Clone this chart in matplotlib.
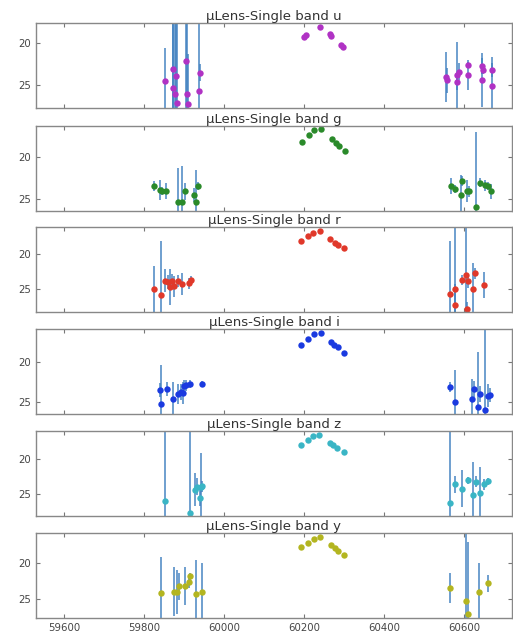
import numpy as np
import matplotlib
matplotlib.use("Agg")
import matplotlib.pyplot as plt
from matplotlib.ticker import MultipleLocator

# Полосы и цвета точек
bands = ["u", "g", "r", "i", "z", "y"]
band_colors = ["#b032c4", "#2a8a2a", "#e0382a", "#1a3ae0", "#3ab5c5", "#b3b520"]

# Данные по полосам: MJD, звёздная величина, ошибка
u_mjd = [59852, 59873, 59873, 59877, 59879, 59882, 59904, 59908, 59910, 59937, 59940,
         60201, 60205, 60240, 60264, 60268, 60293, 60298,
         60554, 60558, 60582, 60583, 60587, 60611, 60611, 60644, 60648, 60646, 60671, 60671]
u_mag = [24.52, 23.1, 25.3, 26.0, 23.9, 27.06, 22.14, 26.0, 27.26, 25.7, 23.5,
         19.25, 19.05, 18.06, 18.96, 19.13, 20.24, 20.5,
         24.0, 24.4, 23.8, 24.6, 23.4, 22.6, 23.8, 22.7, 23.2, 24.4, 23.2, 25.1]
u_err = [4.0, 12, 10, 9, 8, 10, 8, 9, 6, 10, 1.0,
         0.05, 0.05, 0.05, 0.05, 0.05, 0.05, 0.05,
         3.0, 1.5, 4.0, 1.0, 1.0, 0.4, 1.75, 1.0, 0.5, 3.2, 0.8, 3.5]

g_mjd = [59824, 59839, 59846, 59854, 59884, 59895, 59903, 59924, 59930, 59934,
         60195, 60213, 60226, 60243, 60270, 60280, 60288, 60303,
         60567, 60577, 60592, 60596, 60607, 60612, 60631, 60639, 60652, 60661, 60667]
g_mag = [23.45, 23.9, 24.05, 24.05, 25.3, 25.35, 24.1, 24.5, 25.4, 23.45,
         18.3, 17.5, 16.9, 16.8, 17.9, 18.4, 18.8, 19.4,
         23.45, 23.8, 24.5, 22.9, 24.1, 24.1, 25.95, 23.05, 23.4, 23.45, 24.1]
g_err = [0.6, 1.2, 0.5, 0.9, 3.9, 4.2, 1.0, 0.8, 3.8, 0.5,
         0.05, 0.05, 0.05, 0.05, 0.05, 0.05, 0.05, 0.05,
         0.9, 0.5, 2.3, 0.6, 1.3, 0.6, 8.8, 0.5, 0.6, 0.5, 0.9]

r_mjd = [59824, 59842, 59853, 59859, 59866, 59871, 59874, 59885, 59895, 59913, 59917,
         60192, 60209, 60222, 60240, 60265, 60278, 60286, 60301,
         60566, 60577, 60577, 60595, 60604, 60607, 60611, 60622, 60628, 60651]
r_mag = [25.05, 25.9, 23.8, 24.0, 24.7, 23.9, 24.6, 23.85, 24.3, 24.2, 23.7,
         18.14, 17.43, 16.96, 16.7, 17.8, 18.33, 18.7, 19.1,
         25.67, 24.95, 27.3, 23.76, 23.05, 27.8, 23.9, 25.0, 22.76, 24.4]
r_err = [3.3, 7.8, 1.7, 1.0, 2.6, 1.0, 1.5, 0.8, 1.6, 0.8, 0.6,
         0.05, 0.05, 0.05, 0.05, 0.05, 0.05, 0.05, 0.05,
         7.5, 9.0, 3.0, 0.7, 8.0, 1.0, 1.0, 3.7, 0.8, 1.85]

i_mjd = [59839, 59842, 59857, 59873, 59884, 59892, 59897, 59901, 59906, 59916, 59945,
         60192, 60209, 60226, 60243, 60268, 60276, 60284, 60301,
         60566, 60577, 60619, 60626, 60634, 60639, 60652, 60661, 60664]
i_mag = [23.5, 25.2, 23.4, 24.6, 24.0, 23.8, 23.9, 23.0, 22.9, 22.8, 22.75,
         17.87, 17.09, 16.5, 16.37, 17.46, 17.84, 18.2, 18.9,
         23.1, 24.96, 24.6, 23.4, 25.6, 24.0, 26.04, 24.2, 24.1]
i_err = [0.9, 4.8, 0.9, 2.1, 1.3, 1.0, 1.4, 0.7, 0.7, 0.5, 0.4,
         0.05, 0.05, 0.05, 0.05, 0.05, 0.05, 0.05, 0.05,
         0.6, 3.9, 2.5, 1.0, 6.8, 1.0, 10, 1.4, 0.9]

z_mjd = [59853, 59915, 59927, 59932, 59941, 59942, 59946,
         60192, 60209, 60222, 60237, 60265, 60273, 60283, 60300,
         60566, 60577, 60595, 60611, 60622, 60630, 60639, 60651, 60661]
z_mag = [25.95, 27.67, 24.33, 23.95, 25.5, 23.95, 23.85,
         18.0, 17.3, 16.67, 16.57, 17.67, 18.0, 18.47, 19.04,
         26.24, 23.57, 24.2, 23.0, 25.05, 23.2, 24.76, 23.6, 23.14]
z_err = [12, 12, 2.3, 1.2, 1.2, 4.8, 0.8,
         0.05, 0.05, 0.05, 0.05, 0.05, 0.05, 0.05, 0.05,
         12, 1.2, 2.6, 0.5, 4.6, 0.8, 3.7, 0.8, 0.5]

y_mjd = [59842, 59874, 59883, 59887, 59903, 59913, 59915, 59930, 59945,
         60193, 60210, 60226, 60240, 60268, 60277, 60284, 60300,
         60566, 60604, 60610, 60638, 60661]
y_mag = [24.07, 23.98, 23.98, 23.19, 23.15, 22.6, 21.8, 24.2, 24.03,
         17.78, 17.12, 16.57, 16.35, 17.4, 17.87, 18.3, 18.9,
         23.4, 25.3, 27.0, 23.98, 22.78]
y_err = [5.0, 3.4, 3.0, 1.9, 2.6, 0.9, 0.5, 4.6, 4.0,
         0.05, 0.05, 0.05, 0.05, 0.05, 0.05, 0.05, 0.05,
         2.1, 10, 10, 4.0, 1.2]

band_data = [(u_mjd, u_mag, u_err), (g_mjd, g_mag, g_err), (r_mjd, r_mag, r_err),
             (i_mjd, i_mag, i_err), (z_mjd, z_mag, z_err), (y_mjd, y_mag, y_err)]

# Пределы по оси y для каждой панели (ось перевёрнута)
y_limits = [(27.7, 17.6), (26.4, 16.4), (28.3, 16.1), (26.5, 15.9), (28.1, 16.0), (27.6, 15.8)]

plt.rcParams["font.family"] = "DejaVu Sans"

fig = plt.figure(figsize=(5.13, 6.34), dpi=100)
H = 634.0
panel_tops = [23, 126, 227, 329, 431, 533]
panel_h = 85

axes = []
for k, band in enumerate(bands):
    top = panel_tops[k]
    ax = fig.add_axes([36 / 513, 1 - (top + panel_h) / H, 476 / 513, panel_h / H])
    mjd, mag, err = band_data[k]
    ax.errorbar(mjd, mag, yerr=err, fmt="none", ecolor="#3f7fbf", alpha=0.75, elinewidth=1.4)
    ax.plot(mjd, mag, "o", color=band_colors[k], markersize=4.6, markeredgewidth=0)
    ax.set_xlim(59530, 60720)
    ax.set_ylim(*y_limits[k])
    ax.yaxis.set_major_locator(MultipleLocator(5))
    ax.xaxis.set_major_locator(MultipleLocator(200))
    ax.tick_params(direction="in", top=True, right=True, length=3, width=0.8,
                   color="#777777", labelcolor="#444444", labelsize=7.3)
    for s in ax.spines.values():
        s.set_color("#888888")
        s.set_linewidth(1.0)
    if k < len(bands) - 1:
        ax.tick_params(labelbottom=False)
    ax.set_title("\u03bcLens-Single band " + band, fontsize=9.5, color="#333333", pad=2)
    axes.append(ax)

fig.savefig("out.png", dpi=100)
